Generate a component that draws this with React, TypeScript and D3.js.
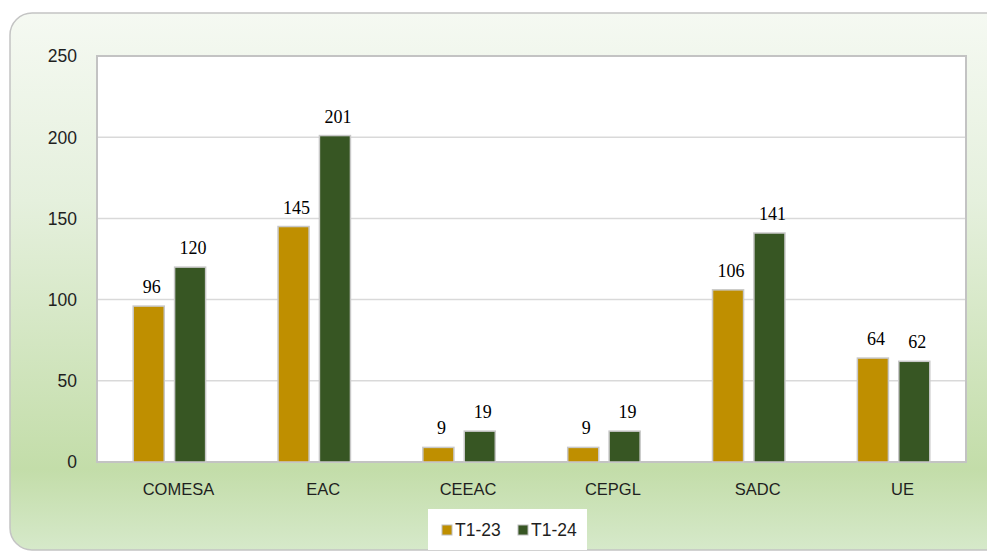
import React, { useRef, useEffect } from 'react';
import * as d3 from 'd3';

const categories = ['COMESA', 'EAC', 'CEEAC', 'CEPGL', 'SADC', 'UE'];
const seriesNames = ['T1-23', 'T1-24'];
const valuesT123 = [96, 145, 9, 9, 106, 64];
const valuesT124 = [120, 201, 19, 19, 141, 62];
const yTicks = [0, 50, 100, 150, 200, 250];

const colors = ['#bf8f00', '#375623'];

const W = 987;
const H = 552;
const plot = { left: 97, right: 966, top: 56, bottom: 462 };

const App: React.FC = () => {
    const svgRef = useRef<SVGSVGElement | null>(null);

    useEffect(() => {
        const svg = d3.select(svgRef.current);
        svg.selectAll('*').remove();

        const defs = svg.append('defs');
        const grad = defs.append('linearGradient')
            .attr('id', 'bg')
            .attr('x1', 0).attr('y1', 0).attr('x2', 0).attr('y2', 1);
        grad.append('stop').attr('offset', '0%').attr('stop-color', '#f5f9f2');
        grad.append('stop').attr('offset', '35%').attr('stop-color', '#e5f0dd');
        grad.append('stop').attr('offset', '85%').attr('stop-color', '#c3dda9');
        grad.append('stop').attr('offset', '100%').attr('stop-color', '#d6e9ca');

        // outer panel
        svg.append('rect')
            .attr('x', 10).attr('y', 13)
            .attr('width', 1000).attr('height', 537)
            .attr('rx', 22)
            .attr('fill', 'url(#bg)')
            .attr('stroke', '#c4c4c4')
            .attr('stroke-width', 1.5);

        const x = d3.scaleBand<string>()
            .domain(categories)
            .range([plot.left, plot.right])
            .paddingInner(0.5)
            .paddingOuter(0.25);

        const xInner = d3.scaleBand<string>()
            .domain(seriesNames)
            .range([0, x.bandwidth()])
            .paddingInner(0.25);

        const y = d3.scaleLinear()
            .domain([0, 250])
            .range([plot.bottom, plot.top]);

        // plot area
        svg.append('rect')
            .attr('x', plot.left).attr('y', plot.top)
            .attr('width', plot.right - plot.left)
            .attr('height', plot.bottom - plot.top)
            .attr('fill', '#ffffff');

        // gridlines
        svg.append('g')
            .selectAll('line')
            .data(yTicks.filter(t => t > 0 && t < 250))
            .enter().append('line')
            .attr('x1', plot.left).attr('x2', plot.right)
            .attr('y1', d => y(d)).attr('y2', d => y(d))
            .attr('stroke', '#d9d9d9')
            .attr('stroke-width', 1.5);

        svg.append('rect')
            .attr('x', plot.left).attr('y', plot.top)
            .attr('width', plot.right - plot.left)
            .attr('height', plot.bottom - plot.top)
            .attr('fill', 'none')
            .attr('stroke', '#c3c3c3')
            .attr('stroke-width', 2);

        // y tick labels
        svg.append('g')
            .selectAll('text')
            .data(yTicks)
            .enter().append('text')
            .attr('x', 77)
            .attr('y', d => y(d))
            .attr('dy', '0.36em')
            .attr('text-anchor', 'end')
            .attr('font-family', 'Liberation Sans, Arial, sans-serif')
            .attr('font-size', 17.5)
            .attr('fill', '#1f1f1f')
            .text(d => d);

        // x labels
        svg.append('g')
            .selectAll('text')
            .data(categories)
            .enter().append('text')
            .attr('x', d => (x(d) as number) + x.bandwidth() / 2 + 9)
            .attr('y', 495)
            .attr('text-anchor', 'middle')
            .attr('font-family', 'Liberation Sans, Arial, sans-serif')
            .attr('font-size', 16.5)
            .attr('fill', '#1f1f1f')
            .text(d => d);

        const allSeries = [valuesT123, valuesT124];
        const rows = categories.flatMap((c, i) =>
            seriesNames.map((s, k) => ({ cat: c, series: s, k, value: allSeries[k][i] }))
        );

        svg.append('g')
            .selectAll('rect')
            .data(rows)
            .enter().append('rect')
            .attr('x', d => (x(d.cat) as number) + (xInner(d.series) as number))
            .attr('y', d => y(d.value))
            .attr('width', xInner.bandwidth())
            .attr('height', d => y(0) - y(d.value))
            .attr('fill', d => colors[d.k])
            .attr('stroke', '#c8c8c8')
            .attr('stroke-width', 1.5);

        // value labels
        svg.append('g')
            .selectAll('text')
            .data(rows)
            .enter().append('text')
            .attr('x', d => (x(d.cat) as number) + (xInner(d.series) as number) + xInner.bandwidth() / 2 + 3)
            .attr('y', d => y(d.value) - 13)
            .attr('text-anchor', 'middle')
            .attr('font-family', 'Liberation Serif, Times New Roman, serif')
            .attr('font-size', 18)
            .attr('fill', '#000')
            .text(d => d.value);

        // legend
        const lg = svg.append('g');
        lg.append('rect')
            .attr('x', 428).attr('y', 509)
            .attr('width', 159).attr('height', 41)
            .attr('fill', '#ffffff');
        const legendX = [442, 518];
        seriesNames.forEach((s, k) => {
            lg.append('rect')
                .attr('x', legendX[k]).attr('y', 525)
                .attr('width', 10).attr('height', 10)
                .attr('fill', colors[k])
                .attr('stroke', '#bdbdbd')
                .attr('stroke-width', 1);
            lg.append('text')
                .attr('x', legendX[k] + 13).attr('y', 535.5)
                .attr('font-family', 'Liberation Sans, Arial, sans-serif')
                .attr('font-size', 17.5)
                .attr('fill', '#1f1f1f')
                .text(s);
        });
    }, []);

    return (
        <svg
            ref={svgRef}
            width={W}
            height={H}
            style={{ position: 'absolute', left: 0, top: 0, background: '#fff' }}
        ></svg>
    );
};

export default App;
